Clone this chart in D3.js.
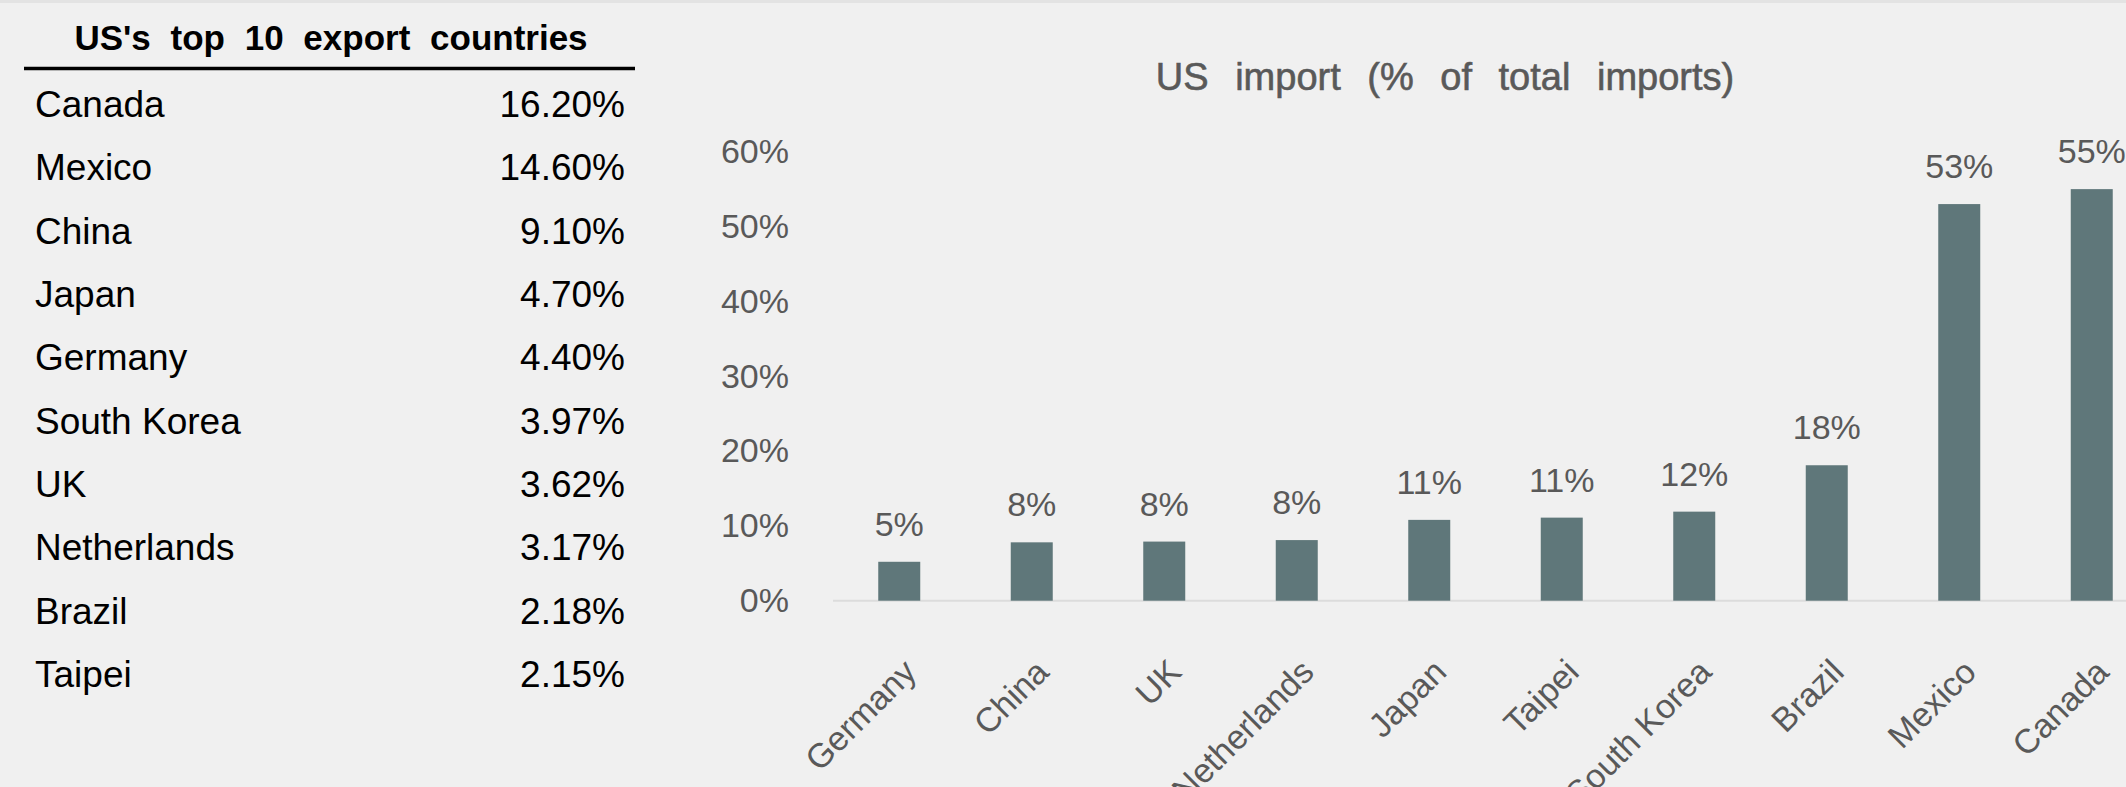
<!DOCTYPE html>
<html>
<head>
<meta charset="utf-8">
<script src="https://cdn.jsdelivr.net/npm/d3@7"></script>
<style>
  html, body { margin: 0; padding: 0; background: #f0f0f0; }
  svg { display: block; font-family: "Liberation Sans", Arial, sans-serif; }
</style>
</head>
<body>
<div id="chart"></div>
<script>
// left table: US's top 10 export countries
const exportCountries = ["Canada", "Mexico", "China", "Japan", "Germany", "South Korea", "UK", "Netherlands", "Brazil", "Taipei"];
const exportShares = [16.20, 14.60, 9.10, 4.70, 4.40, 3.97, 3.62, 3.17, 2.18, 2.15];

// right chart: US import (% of total imports)
const importCountries = ["Germany", "China", "UK", "Netherlands", "Japan", "Taipei", "South Korea", "Brazil", "Mexico", "Canada"];
const importShares = [5.2, 7.8, 7.9, 8.1, 10.8, 11.1, 11.9, 18.1, 53.0, 55.0];
const yTicks = [0, 10, 20, 30, 40, 50, 60];

const W = 2126, H = 787;
const grey = "#595959";

const svg = d3.select("#chart")
    .append("svg")
    .attr("width", W)
    .attr("height", H);

svg.append("rect")
    .attr("width", W).attr("height", H)
    .attr("fill", "#f0f0f0");
svg.append("rect")
    .attr("width", W).attr("height", 3)
    .attr("fill", "#e3e3e3");

// ---- table ----
const table = svg.append("g");

table.append("text")
    .attr("x", 331).attr("y", 50)
    .attr("text-anchor", "middle")
    .attr("font-size", 35)
    .attr("font-weight", "bold")
    .attr("word-spacing", 10)
    .attr("fill", "#000")
    .text("US's top 10 export countries");

table.append("line")
    .attr("x1", 24).attr("x2", 635)
    .attr("y1", 68.5).attr("y2", 68.5)
    .attr("stroke", "#000")
    .attr("stroke-width", 3.5);

const rowY = d3.scalePoint().domain(exportCountries).range([117, 687]);
const fmt = d3.format(".2f");

const rows = table.selectAll("g.row")
    .data(exportCountries.map((c, i) => ({ c, v: exportShares[i] })))
    .enter()
    .append("g")
    .attr("class", "row");

rows.append("text")
    .attr("x", 35)
    .attr("y", d => rowY(d.c))
    .attr("font-size", 37)
    .attr("fill", "#000")
    .text(d => d.c);

rows.append("text")
    .attr("x", 625)
    .attr("y", d => rowY(d.c))
    .attr("text-anchor", "end")
    .attr("font-size", 37)
    .attr("fill", "#000")
    .text(d => fmt(d.v) + "%");

// ---- bar chart ----
const chart = svg.append("g");

chart.append("text")
    .attr("x", 1445).attr("y", 90)
    .attr("text-anchor", "middle")
    .attr("font-size", 38)
    .attr("word-spacing", 16)
    .attr("fill", grey)
    .attr("stroke", grey)
    .attr("stroke-width", 0.6)
    .text("US import (% of total imports)");

const x = d3.scaleBand()
    .domain(importCountries)
    .range([833, 2158])
    .paddingInner(0.683)
    .paddingOuter(0.683 / 2);

const y = d3.scaleLinear()
    .domain([0, 60])
    .range([600.7, 151.7]);

const yAxis = chart.append("g")
    .attr("class", "y-axis")
    .attr("transform", "translate(789,0)")
    .call(d3.axisLeft(y).tickValues(yTicks).tickSize(0).tickPadding(0).tickFormat(d => d + "%"));
yAxis.select(".domain").remove();
yAxis.selectAll("text")
    .attr("font-size", 34)
    .attr("font-family", "Liberation Sans, Arial, sans-serif")
    .attr("fill", grey);

chart.append("line")
    .attr("x1", 833).attr("x2", W)
    .attr("y1", y(0)).attr("y2", y(0))
    .attr("stroke", "#dcdcdc")
    .attr("stroke-width", 2);

const data = importCountries.map((c, i) => ({ c, v: importShares[i] }));

chart.append("g")
    .attr("fill", "#5f777a")
    .selectAll("rect")
    .data(data)
    .enter()
    .append("rect")
    .attr("x", d => x(d.c))
    .attr("y", d => y(d.v))
    .attr("width", x.bandwidth())
    .attr("height", d => y(0) - y(d.v));

chart.append("g")
    .selectAll("text")
    .data(data)
    .enter()
    .append("text")
    .attr("x", d => x(d.c) + x.bandwidth() / 2)
    .attr("y", d => y(d.v) - 26)
    .attr("text-anchor", "middle")
    .attr("font-size", 34)
    .attr("fill", grey)
    .text(d => Math.round(d.v) + "%");

chart.append("g")
    .selectAll("text")
    .data(data)
    .enter()
    .append("text")
    .attr("transform", d => `translate(${x(d.c) + x.bandwidth() / 2 + 19},${674}) rotate(-45)`)
    .attr("text-anchor", "end")
    .attr("font-size", 34)
    .attr("fill", grey)
    .text(d => d.c);
</script>
</body>
</html>
